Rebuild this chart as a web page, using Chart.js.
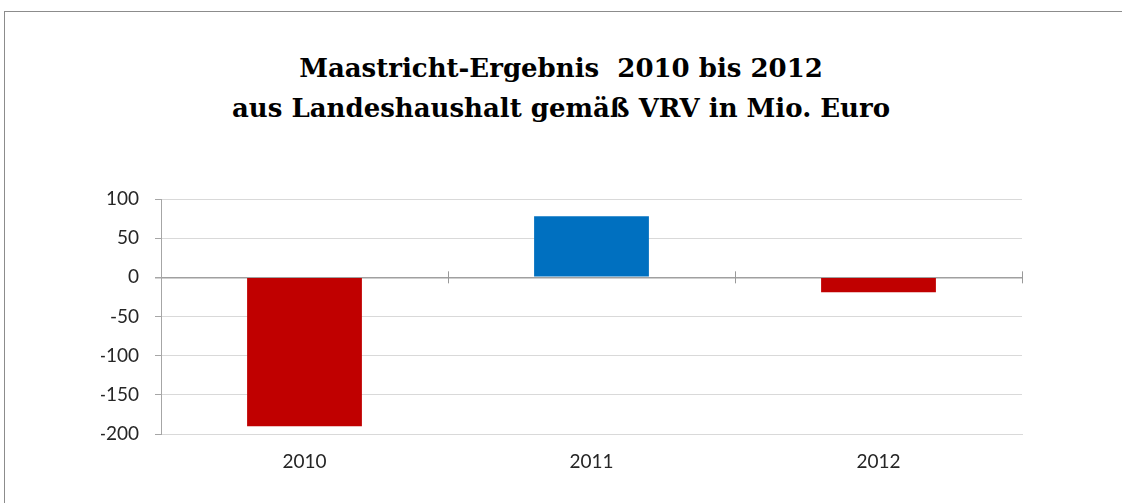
<!DOCTYPE html>
<html>
<head>
<meta charset="utf-8">
<script src="https://cdn.jsdelivr.net/npm/chart.js@4.4.0/dist/chart.umd.min.js"></script>
<style>
  html, body { margin: 0; padding: 0; background: #fff; overflow: hidden; }
  #frame {
    position: absolute; left: 4px; top: 11px; width: 1130px; height: 500px;
    border: 1px solid #8c8c8c; box-sizing: border-box;
  }
  #title {
    position: absolute; left: 0; top: 48px; width: 1122px; text-align: center;
    font-family: "DejaVu Serif", serif; font-weight: bold; font-size: 26px;
    line-height: 40px; color: #000;
  }
  #wrap { position: absolute; left: 5px; top: 12px; width: 1117px; height: 491px; }
</style>
</head>
<body>
<div id="frame"></div>
<div id="title">Maastricht-Ergebnis&nbsp; 2010 bis 2012<br>aus Landeshaushalt gemäß VRV in Mio. Euro</div>
<div id="wrap"><canvas id="myChart"></canvas></div>
<script>
let years = ['2010', '2011', '2012'];
let values = [-190, 78, -19];
let barColors = ['#C00000', '#0070C0', '#C00000'];

// tick marks across the zero line between the categories
let zeroTicks = {
    id: 'zeroTicks',
    afterDatasetsDraw(chart) {
        let ctx = chart.ctx;
        let x = chart.scales.x;
        let y0 = chart.scales.y.getPixelForValue(0);
        ctx.save();
        ctx.strokeStyle = '#999';
        ctx.lineWidth = 1;
        for (let i = 0; i < years.length; i++) {
            let px = Math.round(x.getPixelForValue(i + 0.5)) + 0.5;
            ctx.beginPath();
            ctx.moveTo(px, y0 - 6);
            ctx.lineTo(px, y0 + 6);
            ctx.stroke();
        }
        ctx.restore();
    }
};

let myChart1 = document.getElementById('myChart').getContext('2d');

let chart1 = new Chart(myChart1, {
    type: 'bar',
    data: {
        labels: years,
        datasets: [{
            data: values,
            backgroundColor: barColors,
            borderWidth: 0,
            categoryPercentage: 1,
            barPercentage: 0.4
        }]
    },
    options: {
        responsive: true,
        maintainAspectRatio: false,
        animation: false,
        layout: { padding: { left: 96, right: 100, top: 187, bottom: 29 } },
        plugins: { legend: { display: false }, tooltip: { enabled: false }, title: { display: false } },
        scales: {
            x: {
                grid: {
                    offset: true,
                    drawTicks: false,
                    color: ctx => ctx.index === years.length ? '#d9d9d9' : 'rgba(0,0,0,0)'
                },
                border: { color: '#d9d9d9' },
                ticks: { padding: 16, color: '#262626', font: { family: 'Lato', size: 19 } },
                afterFit: s => { s.height = 40; }
            },
            y: {
                min: -200,
                max: 100,
                ticks: { stepSize: 50, padding: 16, color: '#262626', font: { family: 'Lato', size: 19 } },
                grid: {
                    color: ctx => ctx.tick && ctx.tick.value === 0 ? '#a0a0a0' : '#d9d9d9',
                    lineWidth: ctx => ctx.tick && ctx.tick.value === 0 ? 1.5 : 1,
                    tickColor: '#a6a6a6',
                    tickLength: 6
                },
                border: { color: '#a6a6a6' },
                afterFit: s => { s.width = 60; }
            }
        }
    },
    plugins: [zeroTicks]
});
</script>
</body>
</html>
